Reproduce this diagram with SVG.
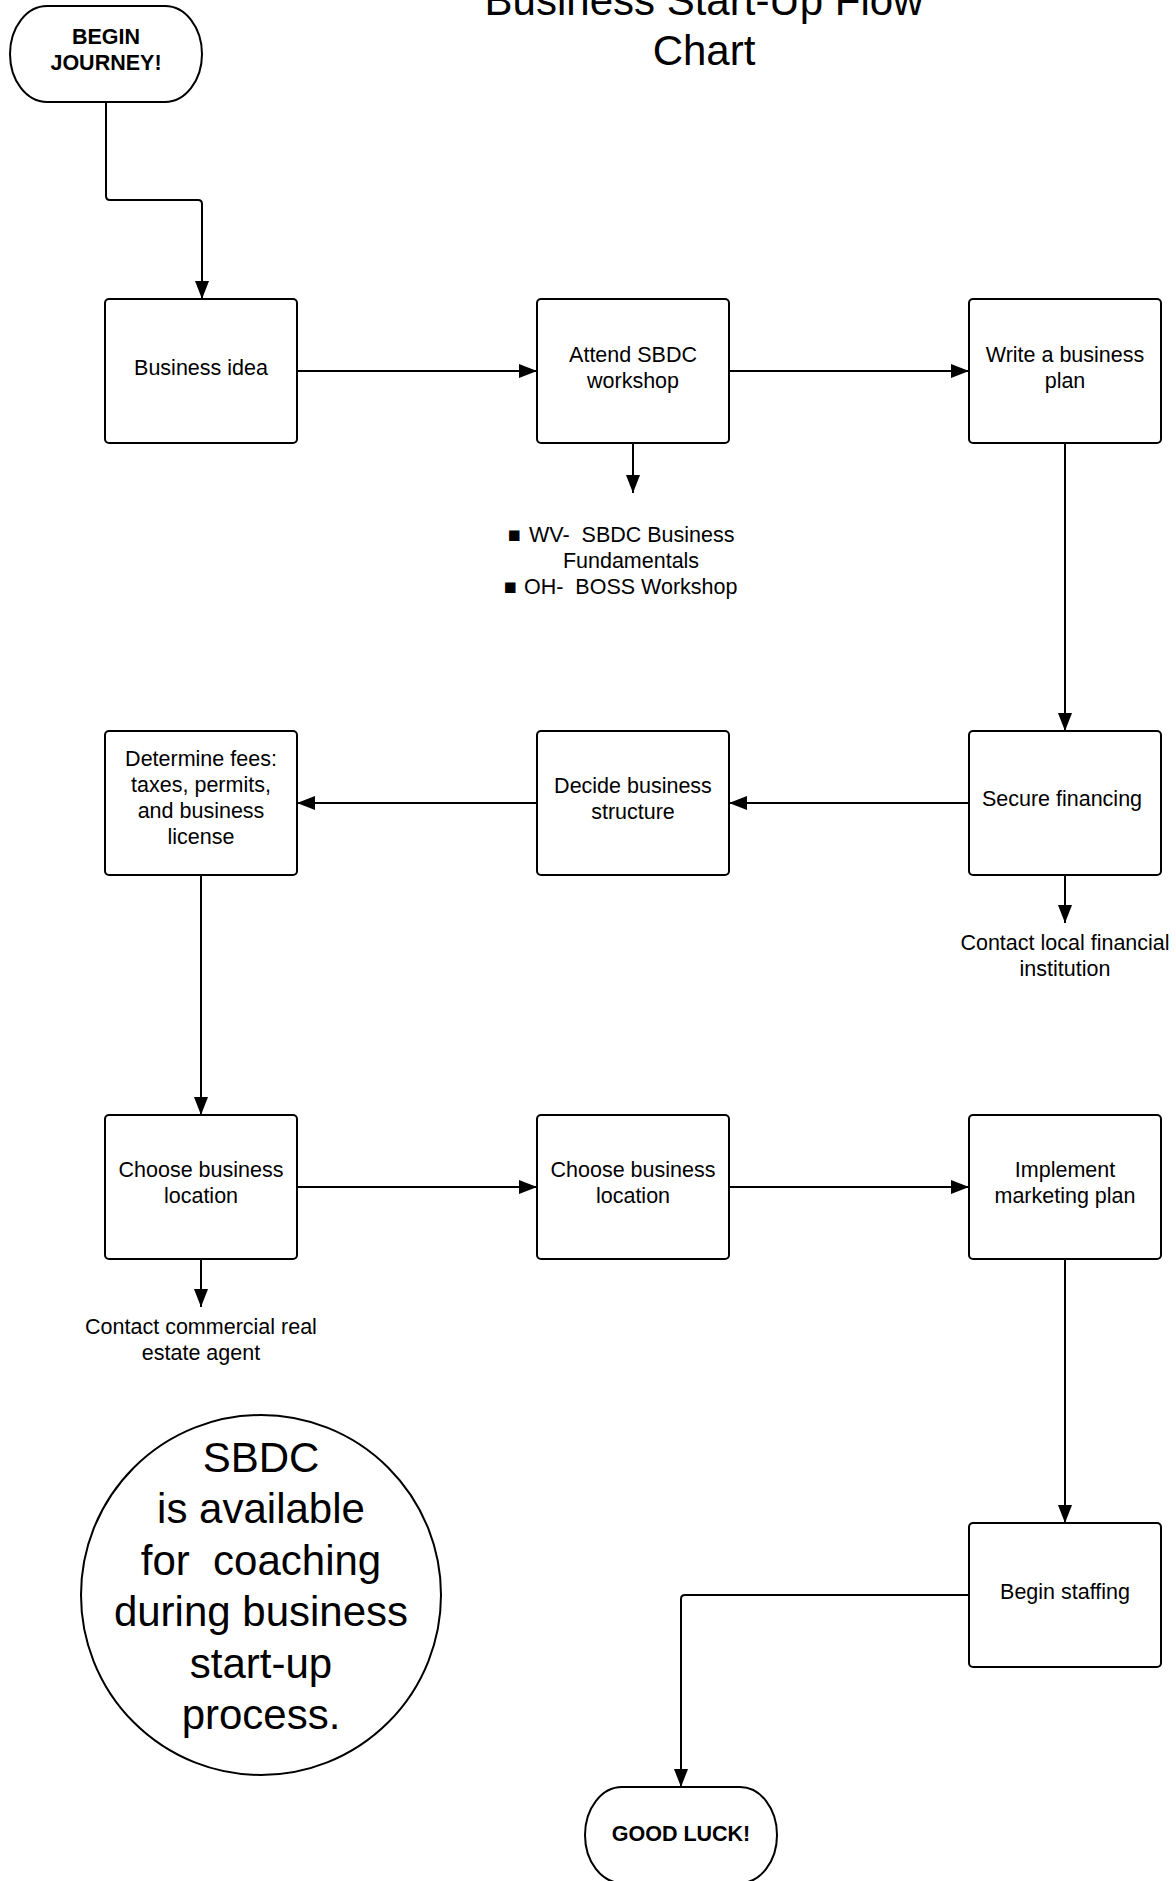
<svg xmlns="http://www.w3.org/2000/svg" width="1176" height="1881" viewBox="0 0 1176 1881">
<style>
text{font-family:"Liberation Sans",Arial,sans-serif;font-size:21.5px;fill:#000;text-anchor:middle}
.b{font-weight:bold}
.t{font-size:42px}
.box{fill:#fff;stroke:#000;stroke-width:2}
.c{fill:none;stroke:#000;stroke-width:2}
</style>
<defs>
<marker id="ah" markerUnits="userSpaceOnUse" markerWidth="18" markerHeight="14" refX="18" refY="7" orient="auto">
<path d="M0,0 L18,7 L0,14 z" fill="#000"/>
</marker>
</defs>
<rect width="1176" height="1881" fill="#fff"/>
<g id="title">
<text class="t" x="704" y="15">Business Start-Up Flow</text>
<text class="t" x="704" y="65">Chart</text>
</g>
<g transform="translate(1,0)">
<g id="connectors">
<path class="c" d="M105,102 V196 Q105,200 109,200 H197 Q201,200 201,204 V299" marker-end="url(#ah)"/>
<path class="c" d="M296,371 H536" marker-end="url(#ah)"/>
<path class="c" d="M728,371 H968" marker-end="url(#ah)"/>
<path class="c" d="M632,443 V493" marker-end="url(#ah)"/>
<path class="c" d="M1064,443 V731" marker-end="url(#ah)"/>
<path class="c" d="M968,803 H728" marker-end="url(#ah)"/>
<path class="c" d="M536,803 H296" marker-end="url(#ah)"/>
<path class="c" d="M1064,875 V923" marker-end="url(#ah)"/>
<path class="c" d="M200,875 V1115" marker-end="url(#ah)"/>
<path class="c" d="M296,1187 H536" marker-end="url(#ah)"/>
<path class="c" d="M728,1187 H968" marker-end="url(#ah)"/>
<path class="c" d="M200,1259 V1307" marker-end="url(#ah)"/>
<path class="c" d="M1064,1259 V1523" marker-end="url(#ah)"/>
<path class="c" d="M968,1595 H684 Q680,1595 680,1599 V1787" marker-end="url(#ah)"/>
</g>
<g id="begin">
<rect class="box" x="9" y="6" width="192" height="96" rx="37" ry="48"/>
<text class="b" x="105" y="44">BEGIN</text>
<text class="b" x="105" y="70">JOURNEY!</text>
</g>
<g id="business-idea">
<rect class="box" x="104" y="299" width="192" height="144" rx="4"/>
<text x="200" y="375">Business idea</text>
</g>
<g id="attend">
<rect class="box" x="536" y="299" width="192" height="144" rx="4"/>
<text x="632" y="362">Attend SBDC</text>
<text x="632" y="388">workshop</text>
</g>
<g id="workshops">
<text x="507" y="542" style="text-anchor:start">■</text>
<text x="528" y="542" style="text-anchor:start" xml:space="preserve">WV-  SBDC Business</text>
<text x="630" y="568">Fundamentals</text>
<text x="503" y="594" style="text-anchor:start">■</text>
<text x="523" y="594" style="text-anchor:start" xml:space="preserve">OH-  BOSS Workshop</text>
</g>
<g id="write-plan">
<rect class="box" x="968" y="299" width="192" height="144" rx="4"/>
<text x="1064" y="362">Write a business</text>
<text x="1064" y="388">plan</text>
</g>
<g id="secure">
<rect class="box" x="968" y="731" width="192" height="144" rx="4"/>
<text x="1061" y="806">Secure financing</text>
</g>
<g id="contact-financial">
<text x="1064" y="950">Contact local financial</text>
<text x="1064" y="976">institution</text>
</g>
<g id="decide">
<rect class="box" x="536" y="731" width="192" height="144" rx="4"/>
<text x="632" y="793">Decide business</text>
<text x="632" y="819">structure</text>
</g>
<g id="fees">
<rect class="box" x="104" y="731" width="192" height="144" rx="4"/>
<text x="200" y="766">Determine fees:</text>
<text x="200" y="792">taxes, permits,</text>
<text x="200" y="818">and business</text>
<text x="200" y="844">license</text>
</g>
<g id="location1">
<rect class="box" x="104" y="1115" width="192" height="144" rx="4"/>
<text x="200" y="1177">Choose business</text>
<text x="200" y="1203">location</text>
</g>
<g id="contact-agent">
<text x="200" y="1334">Contact commercial real</text>
<text x="200" y="1360">estate agent</text>
</g>
<g id="location2">
<rect class="box" x="536" y="1115" width="192" height="144" rx="4"/>
<text x="632" y="1177">Choose business</text>
<text x="632" y="1203">location</text>
</g>
<g id="marketing">
<rect class="box" x="968" y="1115" width="192" height="144" rx="4"/>
<text x="1064" y="1177">Implement</text>
<text x="1064" y="1203">marketing plan</text>
</g>
<g id="staffing">
<rect class="box" x="968" y="1523" width="192" height="144" rx="4"/>
<text x="1064" y="1599">Begin staffing</text>
</g>
<g id="good-luck">
<rect class="box" x="584" y="1787" width="192" height="96" rx="37" ry="48"/>
<text class="b" x="680" y="1841">GOOD LUCK!</text>
</g>
</g>
<g id="sbdc-note">
<circle class="box" cx="261" cy="1595" r="180"/>
<text class="t" x="261" y="1472">SBDC</text>
<text class="t" x="261" y="1523">is available</text>
<text class="t" x="261" y="1575" xml:space="preserve">for  coaching</text>
<text class="t" x="261" y="1626">during business</text>
<text class="t" x="261" y="1678">start-up</text>
<text class="t" x="261" y="1729">process.</text>
</g>
</svg>
